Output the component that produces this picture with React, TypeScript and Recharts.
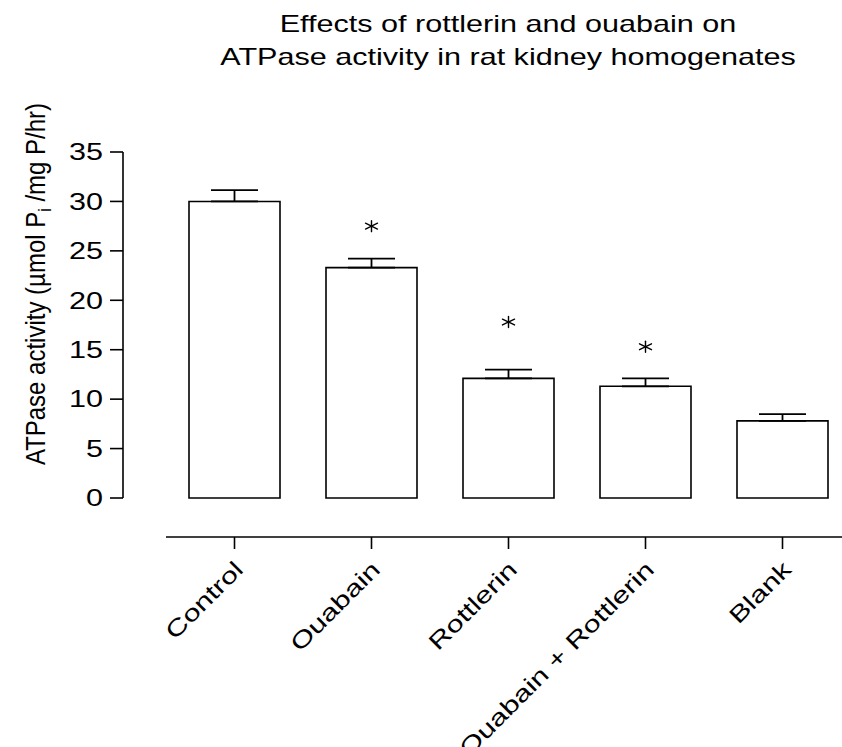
import React from "react";
import {
  Bar,
  ComposedChart,
  ErrorBar,
  Scatter,
  XAxis,
  YAxis,
} from "recharts";

// values
const groups = ["Control", "Ouabain", "Rottlerin", "Ouabain + Rottlerin", "Blank"];
const means = [30.0, 23.3, 12.1, 11.3, 7.8];
const sems = [1.15, 0.92, 0.88, 0.81, 0.68];
// where the significance asterisks sit (y units), null = none
const sigLevels: (number | null)[] = [null, 27.5, 17.8, 15.3, null];
const yTicks = [0, 5, 10, 15, 20, 25, 30, 35];

const titleLines = [
  "Effects of rottlerin and ouabain on",
  "ATPase activity in rat kidney homogenates",
];

const rows = groups.map((name, i) => ({
  name,
  mean: means[i],
  err: [0, sems[i]],
  sig: sigLevels[i],
}));

const FONT = '"Liberation Sans", Arial, Helvetica, sans-serif';
const SIZE = 23;
const WIDE = 1.33; // the figure's lettering is horizontally stretched

function YTick({ x, y, payload }: any) {
  return (
    <text
      transform={`translate(${x},${y}) scale(${WIDE},1)`}
      textAnchor="end"
      dy="0.36em"
      fontSize={SIZE}
      fill="#000"
      fontFamily={FONT}
    >
      {payload.value}
    </text>
  );
}

function XTick({ x, y, payload }: any) {
  return (
    <text
      transform={`translate(${x + 10},${y + 22}) rotate(-45) scale(${WIDE},1)`}
      textAnchor="end"
      fontSize={SIZE}
      fill="#000"
      fontFamily={FONT}
    >
      {payload.value}
    </text>
  );
}

function YLabel() {
  return (
    <text
      transform="translate(45,284) rotate(-90) scale(1,1.12)"
      textAnchor="middle"
      fontSize={24}
      fill="#000"
      fontFamily={FONT}
    >
      ATPase activity (µmol P
      <tspan dy={5} fontSize={16}>i</tspan>
      <tspan dy={-5}> /mg P/hr)</tspan>
    </text>
  );
}

// six-armed asterisk like the original's significance mark
function Star(props: any) {
  const { cx, cy, payload } = props;
  if (payload == null || payload.sig == null || cx == null || cy == null) return <g />;
  return (
    <g stroke="#000" strokeWidth={1.4} strokeLinecap="round">
      <line x1={cx} y1={cy - 5.5} x2={cx} y2={cy + 5.5} />
      <line x1={cx - 6} y1={cy - 2.9} x2={cx + 6} y2={cy + 2.9} />
      <line x1={cx - 6} y1={cy + 2.9} x2={cx + 6} y2={cy - 2.9} />
    </g>
  );
}

export default function App() {
  return (
    <div
      style={{
        position: "absolute",
        left: 0,
        top: 0,
        width: 842,
        height: 747,
        overflow: "hidden",
        background: "#fff",
        fontFamily: FONT,
      }}
    >
      <ComposedChart
        width={851}
        height={747}
        data={rows}
        margin={{ top: 152, right: 0, bottom: 0, left: 0 }}
      >
        {/* spacer axes: keep the real axes detached from the bars */}
        <XAxis xAxisId="gap" dataKey="name" height={39} axisLine={false} tickLine={false} tick={false} />
        <YAxis yAxisId="gap" width={43} domain={[0, 35]} axisLine={false} tickLine={false} tick={false} />
        <XAxis
          xAxisId="main"
          dataKey="name"
          height={210}
          interval={0}
          tickSize={12}
          tickMargin={0}
          axisLine={{ stroke: "#000", strokeWidth: 1.6 }}
          tickLine={{ stroke: "#000", strokeWidth: 1.6 }}
          tick={<XTick />}
        />
        <YAxis
          yAxisId="main"
          width={123}
          domain={[0, 35]}
          ticks={yTicks}
          interval={0}
          tickSize={13}
          tickMargin={7}
          axisLine={{ stroke: "#000", strokeWidth: 1.6 }}
          tickLine={{ stroke: "#000", strokeWidth: 1.6 }}
          tick={<YTick />}
          label={<YLabel />}
        />
        <Bar
          xAxisId="main"
          yAxisId="main"
          dataKey="mean"
          barSize={91}
          fill="#fff"
          stroke="#000"
          strokeWidth={1.6}
          isAnimationActive={false}
        >
          <ErrorBar dataKey="err" width={23.5} stroke="#000" strokeWidth={1.8} direction="y" />
        </Bar>
        <Scatter
          xAxisId="main"
          yAxisId="main"
          dataKey="sig"
          shape={<Star />}
          isAnimationActive={false}
        />
      </ComposedChart>
      <svg
        width={842}
        height={100}
        style={{ position: "absolute", left: 0, top: 0, pointerEvents: "none" }}
      >
        {titleLines.map((line, i) => (
          <text
            key={line}
            transform={`translate(508,${32 + i * 33}) scale(${WIDE},1)`}
            textAnchor="middle"
            fontSize={SIZE}
            fill="#000"
            fontFamily={FONT}
          >
            {line}
          </text>
        ))}
      </svg>
    </div>
  );
}
